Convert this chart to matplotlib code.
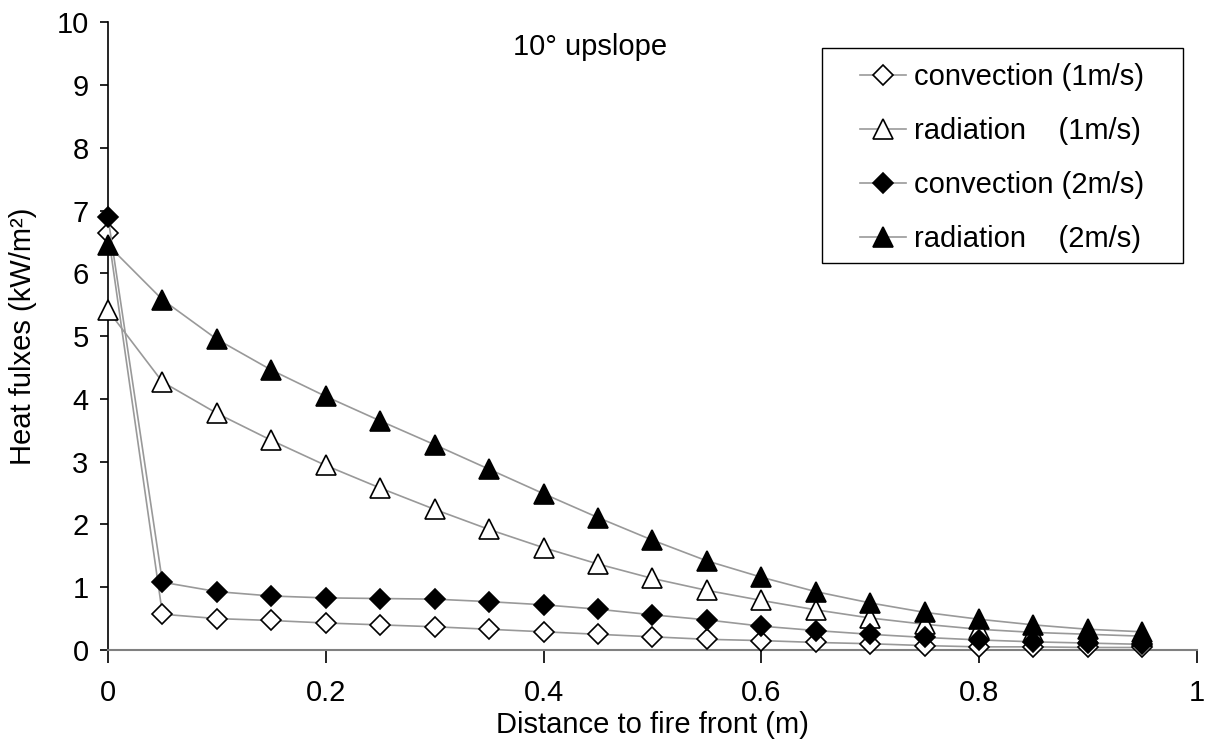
import matplotlib.pyplot as plt
from matplotlib.patches import Rectangle

plt.rcParams['font.family'] = ['Liberation Sans', 'DejaVu Sans']

# distance to fire front (m)
distance = [0, 0.05, 0.1, 0.15, 0.2, 0.25, 0.3, 0.35, 0.4, 0.45,
            0.5, 0.55, 0.6, 0.65, 0.7, 0.75, 0.8, 0.85, 0.9, 0.95]

# heat fluxes (kW/m2)
conv_1 = [6.65, 0.57, 0.50, 0.47, 0.43, 0.40, 0.37, 0.33, 0.29, 0.25,
          0.21, 0.17, 0.15, 0.12, 0.10, 0.07, 0.05, 0.05, 0.04, 0.04]
rad_1 = [5.41, 4.27, 3.77, 3.34, 2.94, 2.58, 2.24, 1.92, 1.63, 1.37,
         1.14, 0.95, 0.79, 0.64, 0.51, 0.41, 0.33, 0.28, 0.25, 0.22]
conv_2 = [6.89, 1.08, 0.93, 0.86, 0.83, 0.82, 0.81, 0.77, 0.72, 0.65,
          0.56, 0.48, 0.38, 0.31, 0.25, 0.20, 0.16, 0.13, 0.11, 0.09]
rad_2 = [6.45, 5.58, 4.95, 4.46, 4.04, 3.65, 3.27, 2.88, 2.49, 2.11,
         1.75, 1.42, 1.16, 0.93, 0.75, 0.60, 0.49, 0.40, 0.33, 0.29]

labels = ['convection (1m/s)', 'radiation    (1m/s)',
          'convection (2m/s)', 'radiation    (2m/s)']
xticks = [0, 0.2, 0.4, 0.6, 0.8, 1]
yticks = list(range(0, 11))

FS = 21
LINE = '#999999'

fig = plt.figure(figsize=(12.07, 7.42), dpi=100)
ax = fig.add_axes([0.0895, 0.124, 0.902, 0.846])

styles = [
    dict(marker='D', mfc='white', ms=10),
    dict(marker='^', mfc='white', ms=14),
    dict(marker='D', mfc='black', ms=10),
    dict(marker='^', mfc='black', ms=14),
]
series = [conv_1, rad_1, conv_2, rad_2]
for ys, st, lab in zip(series, styles, labels):
    ax.plot(distance, ys, color=LINE, lw=1.2, mec='black', mew=1.2,
            label=lab, clip_on=False, zorder=3, **st)

ax.set_xlim(0, 1)
ax.set_ylim(0, 10)
ax.set_xticks(xticks)
ax.set_xticklabels(['0', '0.2', '0.4', '0.6', '0.8', '1'])
ax.set_yticks(yticks)

for s in ['top', 'right']:
    ax.spines[s].set_visible(False)
ax.spines['bottom'].set_color('#808080')
ax.spines['bottom'].set_linewidth(1.5)
ax.spines['left'].set_color('black')
ax.spines['left'].set_linewidth(1.2)

ax.tick_params(axis='x', direction='out', length=9, width=1.2, pad=12,
               labelsize=FS, colors='black')
ax.tick_params(axis='y', direction='out', length=6, width=1.2, pad=8,
               labelsize=FS, colors='black')

ax.set_xlabel('Distance to fire front (m)', fontsize=FS, va='center')
ax.xaxis.set_label_coords(0.5, -0.119)
ax.set_ylabel('Heat fulxes (kW/m²)', fontsize=FS, va='center')
ax.yaxis.set_label_coords(-0.078, 0.5)

ax.text(0.443, 9.6, '10° upslope', fontsize=FS, ha='center', va='center')

# legend with a wider frame than matplotlib's symmetric padding allows
frame = Rectangle((0.656, 0.616), 0.331, 0.343, transform=ax.transAxes,
                  facecolor='white', edgecolor='black', lw=1.0, zorder=4)
ax.add_patch(frame)
leg = ax.legend(loc='center', bbox_to_anchor=(0.8215, 0.784), frameon=False,
                fontsize=FS, handlelength=1.55, handletextpad=0.3,
                labelspacing=0.89, borderpad=0.3)
leg.set_zorder(5)

fig.savefig('out.png', dpi=100)
